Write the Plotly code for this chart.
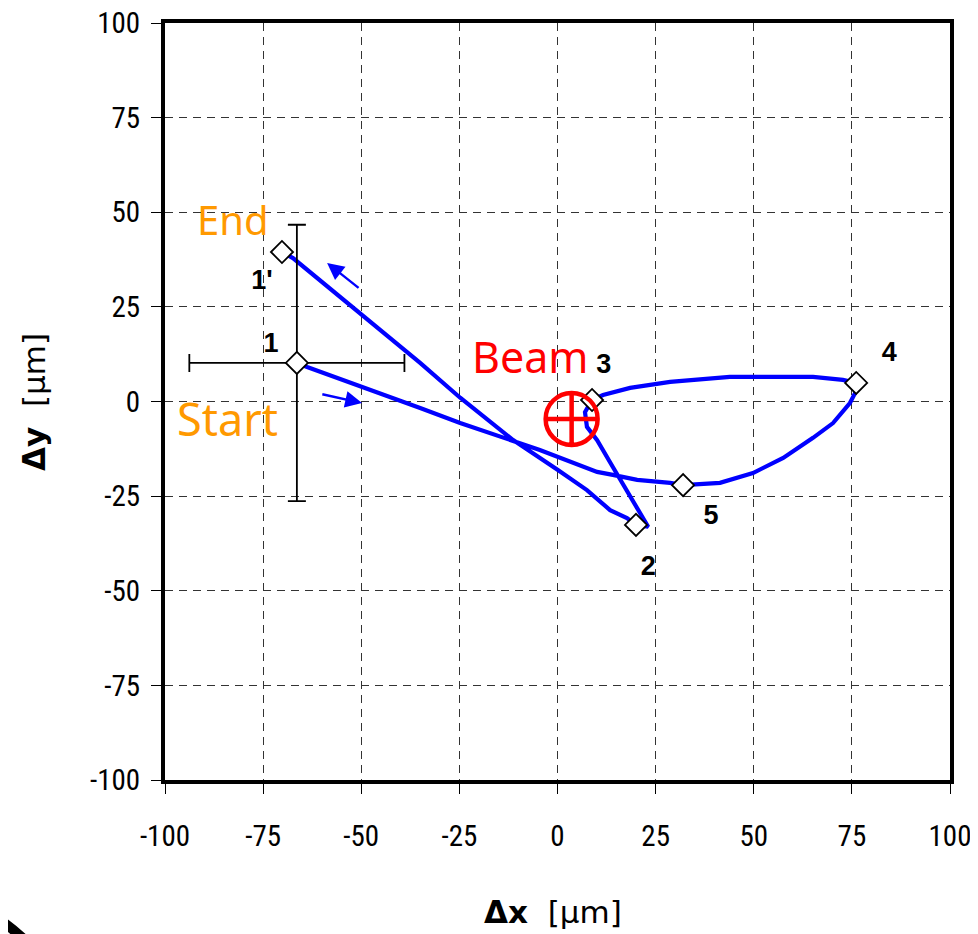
import plotly.graph_objects as go

# ---- data ----
path_x = [-66.4, -63.8, -35.0, -24.8, -4.5, 10.1, 14.1, 20.3, 28.7, 32.0, 41.4, 49.8, 57.5, 65.1, 70.2,
          74.5, 75.8, 76.1, 72.7, 65.1, 43.9, 28.7, 18.5, 11.6, 8.8, 7.0, 7.5, 10.1, 14.1, 19.2, 23.1,
          20.0, 17.7, 13.4, 7.5, 0.1, -11.3, -24.8, -35.0, -67.4, -70.2]
path_y = [10.2, 9.1, -1.7, -5.7, -12.8, -18.6, -19.4, -20.7, -21.5, -22.1, -21.5, -18.9, -14.9, -9.6, -5.7,
          -0.4, 2.2, 4.9, 5.7, 6.5, 6.5, 5.2, 3.6, 1.7, 0.4, -2.8, -6.7, -10.2, -17.3, -26.0, -33.1,
          -32.6, -30.8, -28.7, -23.4, -18.1, -10.2, 1.0, 10.2, 37.9, 39.5]

point_x = [-66.4, 20.0, 8.8, 76.1, 32.0, -70.2]
point_y = [10.2, -32.6, 0.4, 4.9, -22.1, 39.5]
point_labels = ["1", "2", "3", "4", "5", "1'"]
label_x = [-73.0, 23.1, 11.8, 84.5, 39.1, -75.3]
label_y = [14.9, -44.0, 9.4, 12.5, -30.5, 31.6]

err_x = [27.4]
err_y = [36.5]

beam_x = [3.6]
beam_y = [-4.6]

notes_text = ["End", "Start", "Beam"]
notes_x = [-82.7, -84.0, -7.0]
notes_y = [48.0, -4.4, 11.8]
notes_color = ["#FF9900", "#FF9900", "#FF0000"]
notes_size = [40, 45, 43]

arrow_tail_x = [-50.3, -60.3]
arrow_tail_y = [29.7, 2.0]
arrow_head_x = [-58.7, -49.8]
arrow_head_y = [36.6, -0.4]

ticks = [-100, -75, -50, -25, 0, 25, 50, 75, 100]

fig = go.Figure()

fig.add_trace(go.Scatter(x=path_x, y=path_y, mode="lines",
                         line=dict(color="#0000FF", width=4.2), hoverinfo="skip", showlegend=False))

fig.add_trace(go.Scatter(x=point_x[:1], y=point_y[:1], mode="markers",
                         error_x=dict(type="data", array=err_x, color="black", thickness=1.8, width=9),
                         error_y=dict(type="data", array=err_y, color="black", thickness=1.8, width=9),
                         marker=dict(symbol="diamond", size=17, color="white", line=dict(color="black", width=1.8)),
                         showlegend=False))

fig.add_trace(go.Scatter(x=point_x[1:], y=point_y[1:], mode="markers",
                         marker=dict(symbol="diamond", size=17, color="white", line=dict(color="black", width=1.8)),
                         showlegend=False))

fig.add_trace(go.Scatter(x=beam_x, y=beam_y, mode="markers",
                         marker=dict(symbol="circle-cross-open", size=52, color="#FF0000",
                                     line=dict(color="#FF0000", width=4.5)),
                         showlegend=False))

fig.add_trace(go.Scatter(x=label_x, y=label_y, mode="text", text=point_labels,
                         textfont=dict(family="Liberation Sans, Arial", size=27, color="black", weight="bold"),
                         showlegend=False))

for t, x, y, c, s in zip(notes_text, notes_x, notes_y, notes_color, notes_size):
    fig.add_annotation(x=x, y=y, text=t, showarrow=False, xanchor="center", yanchor="middle",
                       font=dict(family="Comic Sans MS, Noto Sans", size=s, color=c))

for tx, ty, hx, hy in zip(arrow_tail_x, arrow_tail_y, arrow_head_x, arrow_head_y):
    fig.add_annotation(x=hx, y=hy, ax=tx, ay=ty, xref="x", yref="y", axref="x", ayref="y",
                       text="", showarrow=True, arrowhead=2, arrowsize=1.4, arrowwidth=2.4,
                       arrowcolor="#0000FF")

# axis titles
fig.add_annotation(x=0.494, y=-0.174, xref="paper", yref="paper", showarrow=False,
                   text="<b>Δx</b>  [μm]", xanchor="center", yanchor="middle",
                   font=dict(family="DejaVu Sans", size=31, color="black"))
fig.add_annotation(x=-0.166, y=0.499, xref="paper", yref="paper", showarrow=False,
                   text="<b>Δy</b>  [μm]", textangle=-90, xanchor="center", yanchor="middle",
                   font=dict(family="DejaVu Sans", size=31, color="black"))

# decorative arc at bottom-left corner
fig.add_shape(type="path", xref="paper", yref="paper",
              path="M -0.225,-0.176 Q -0.205,-0.186 -0.178,-0.212",
              line=dict(color="black", width=10))

axis_common = dict(range=[-100, 100], tickvals=ticks, ticktext=[str(t) for t in ticks],
                   showline=True, linecolor="black", linewidth=4, mirror=True,
                   ticks="outside", ticklen=10, tickcolor="black", tickwidth=1,
                   showgrid=True, gridcolor="#333333", gridwidth=1, griddash="8px,6px",
                   zeroline=False, ticklabeloverflow="allow", automargin=False,
                   tickfont=dict(family="Liberation Sans Narrow, Roboto Condensed, Roboto", size=29, color="black"))

fig.update_xaxes(**axis_common, ticklabelstandoff=17)
fig.update_yaxes(**axis_common, ticklabelstandoff=5)

# the page body adds an 8px offset; compensate so the plot area sits where the reference has it
fig.update_layout(width=970, height=926, margin=dict(l=157, r=28, t=15, b=154),
                  plot_bgcolor="white", paper_bgcolor="white", showlegend=False)

fig.write_html("out.html")
